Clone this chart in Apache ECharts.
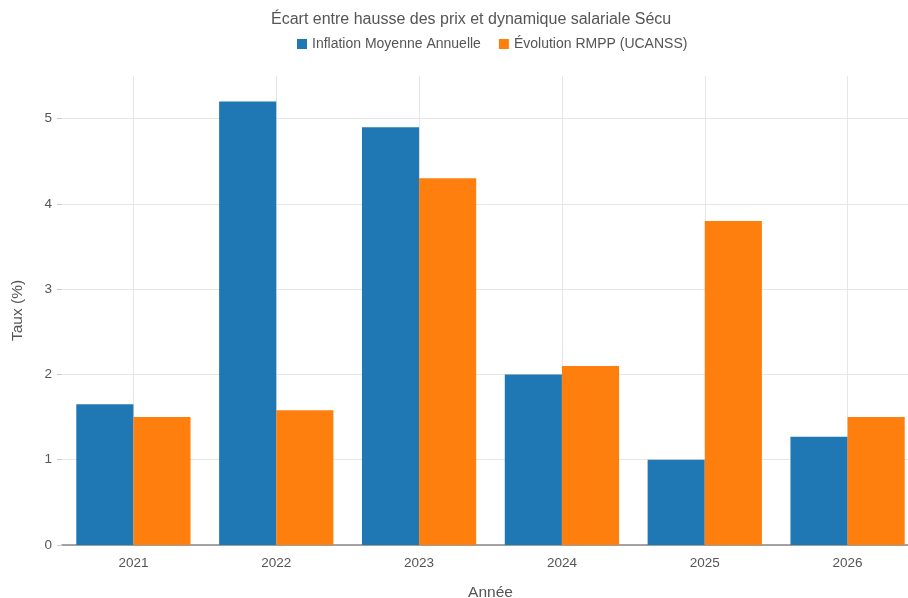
<!DOCTYPE html>
<html>
<head>
<meta charset="utf-8">
<script src="https://cdn.jsdelivr.net/npm/echarts@6/dist/echarts.min.js"></script>
<style>html,body{margin:0;padding:0;background:#fff;}#c{width:908px;height:598px;}</style>
</head>
<body>
<div id="c"></div>
<script>
const categories = ['2021', '2022', '2023', '2024', '2025', '2026'];
const inflation = [1.65, 5.2, 4.9, 2.0, 1.0, 1.27];
const rmpp = [1.5, 1.58, 4.3, 2.1, 3.8, 1.5];
const yTicks = [0, 1, 2, 3, 4, 5];
const seriesNames = ['Inflation Moyenne Annuelle', 'Évolution RMPP (UCANSS)'];

const font = 'Liberation Sans, Arial, sans-serif';
const chart = echarts.init(document.getElementById('c'), null, {renderer: 'canvas'});
chart.setOption({
  animation: false,
  backgroundColor: '#ffffff',
  title: {
    text: 'Écart entre hausse des prix et dynamique salariale Sécu',
    left: 266, top: 7,
    textStyle: {fontFamily: font, fontSize: 16, fontWeight: 'normal', color: '#555'}
  },
  legend: {
    data: seriesNames,
    left: 292, top: 32,
    itemWidth: 10, itemHeight: 10, itemGap: 18,
    icon: 'rect',
    textStyle: {fontFamily: font, fontSize: 14, color: '#555'}
  },
  grid: {left: 62, top: 76, width: 857, height: 469, containLabel: false, outerBoundsMode: 'none'},
  xAxis: {
    type: 'category',
    data: categories,
    name: 'Année', nameLocation: 'middle', nameGap: 40,
    nameTextStyle: {fontFamily: font, fontSize: 15.5, color: '#555'},
    axisLine: {show: true, lineStyle: {color: '#888', width: 1.5}},
    axisTick: {show: false},
    axisLabel: {fontFamily: font, fontSize: 13.5, color: '#555', margin: 11},
    splitLine: {show: true, alignWithLabel: true, lineStyle: {color: '#e6e6e6', width: 1}}
  },
  yAxis: {
    type: 'value', min: 0, max: 5.5, interval: 1,
    name: 'Taux (%)', nameLocation: 'middle', nameGap: 36, nameRotate: 90,
    nameTextStyle: {fontFamily: font, fontSize: 15.5, color: '#555'},
    axisLine: {show: false},
    axisTick: {show: true, length: 5, lineStyle: {color: '#ccc'}},
    axisLabel: {fontFamily: font, fontSize: 13.5, color: '#555', margin: 10, showMaxLabel: false,
      formatter: v => (yTicks.indexOf(v) >= 0 ? String(v) : '')},
    splitLine: {show: true, showMaxLine: false, lineStyle: {color: '#e6e6e6', width: 1}}
  },
  series: [
    {name: seriesNames[0], type: 'bar', data: inflation, barGap: '0%', barCategoryGap: '20%',
     itemStyle: {color: '#1f77b4'}},
    {name: seriesNames[1], type: 'bar', data: rmpp, barGap: '0%', barCategoryGap: '20%',
     itemStyle: {color: '#ff7f0e'}}
  ]
});
</script>
</body>
</html>
